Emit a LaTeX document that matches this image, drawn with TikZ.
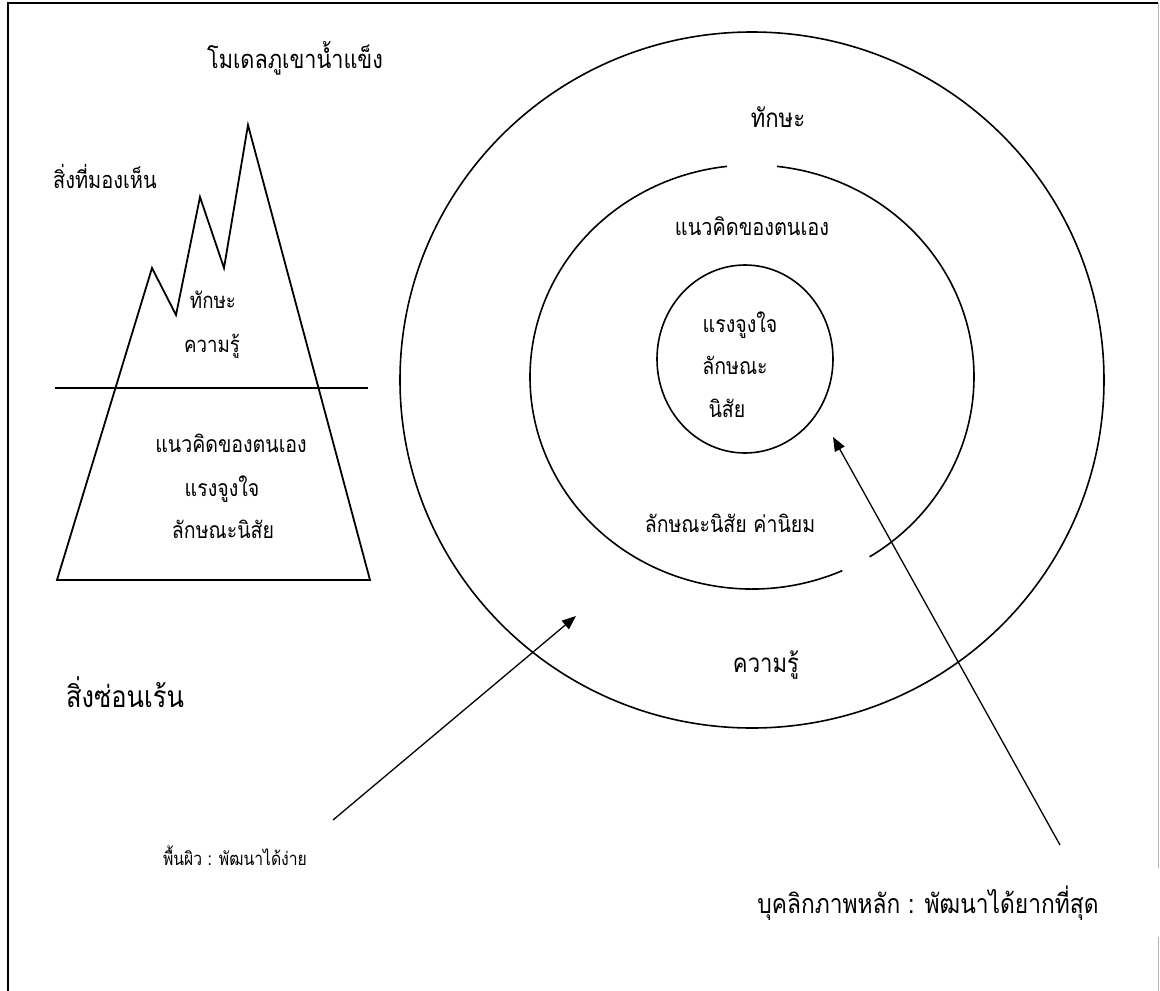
\documentclass[tikz,border=0pt]{standalone}
\usepackage{fontspec}
\newfontfamily\thai[Script=Thai,FakeStretch=0.85]{Loma}
\usetikzlibrary{arrows.meta}
\begin{document}
\begin{tikzpicture}[x=1pt,y=-1pt,
  lbl/.style={font=\thai\fontsize{#1}{#1}\selectfont, inner sep=0pt, anchor=base},
  ln/.style={line width=1.8pt},
  cl/.style={line width=1.6pt},
  arr/.style={line width=1.3pt, -{Triangle[length=14pt,width=11pt]}},
]
\useasboundingbox (0,0) rectangle (1160,991);
% frame
\coordinate (fTL) at (8,3);
\coordinate (fBL) at (8,991);
\coordinate (fTR) at (1158,3);
\coordinate (fR1) at (1158,868);
\coordinate (fR2) at (1158,937);
\coordinate (fBR) at (1158,991);
\draw[line width=2pt] (fBL) -- (fTL) -- (fTR);
\draw[gray!60, line width=1pt] (fTR) -- (fR1) (fR2) -- (fBR);

% iceberg
\draw[ln, line join=miter] (57,580) -- (152,268) -- (176,315) -- (200,197) -- (224,268) -- (248,125) -- (370,580) -- cycle;
\draw[ln] (55,388) -- (368,388);

% circles
\coordinate (co) at (752,380);
\draw[cl] (co) ellipse [x radius=352, y radius=348];
\coordinate (cm) at (752,377);
\draw[cl] ([shift={(276.5:222 and 212)}]cm) arc[start angle=276.5, end angle=418, x radius=222, y radius=212];
\draw[cl] ([shift={(426:222 and 212)}]cm) arc[start angle=426, end angle=623.5, x radius=222, y radius=212];
\coordinate (ci) at (745,359);
\draw[cl] (ci) ellipse [x radius=88, y radius=94];

% arrows
\coordinate (a1s) at (333,820);
\coordinate (a1e) at (576,616);
\draw[arr] (a1s) -- (a1e);
\coordinate (a2s) at (1060,845);
\coordinate (a2e) at (833,437);
\draw[arr] (a2s) -- (a2e);

% texts left
\node[lbl=25.5] (title) at (295,68) {โมเดลภูเขาน้ำแข็ง};
\node[lbl=23.5] (vis) at (105,188) {สิ่งที่มองเห็น};
\node[lbl=22] (isk) at (213,308) {ทักษะ};
\node[lbl=22] (ikn) at (212,352) {ความรู้};
\node[lbl=23] (ic1) at (231,452) {แนวคิดของตนเอง};
\node[lbl=23] (ic2) at (222,496) {แรงจูงใจ};
\node[lbl=23] (ic3) at (223,538) {ลักษณะนิสัย};
\node[lbl=30] (hid) at (125,707) {สิ่งซ่อนเร้น};

% texts circles
\node[lbl=26] (csk) at (778,127) {ทักษะ};
\node[lbl=23.4] (cc1) at (752,235) {แนวคิดของตนเอง};
\node[lbl=23] (cm1) at (740,332) {แรงจูงใจ};
\node[lbl=23] (cm2) at (735,374) {ลักษณะ};
\node[lbl=23] (cm3) at (727,417) {นิสัย};
\node[lbl=23] (cv) at (730,532) {ลักษณะนิสัย ค่านิยม};
\node[lbl=26] (ckn) at (766,672) {ความรู้};

% bottom labels
\node[lbl=18.5] (surf) at (235,865) {พื้นผิว : พัฒนาได้ง่าย};
\node[lbl=26.8] (core) at (928,913) {บุคลิกภาพหลัก : พัฒนาได้ยากที่สุด};
\end{tikzpicture}
\end{document}
